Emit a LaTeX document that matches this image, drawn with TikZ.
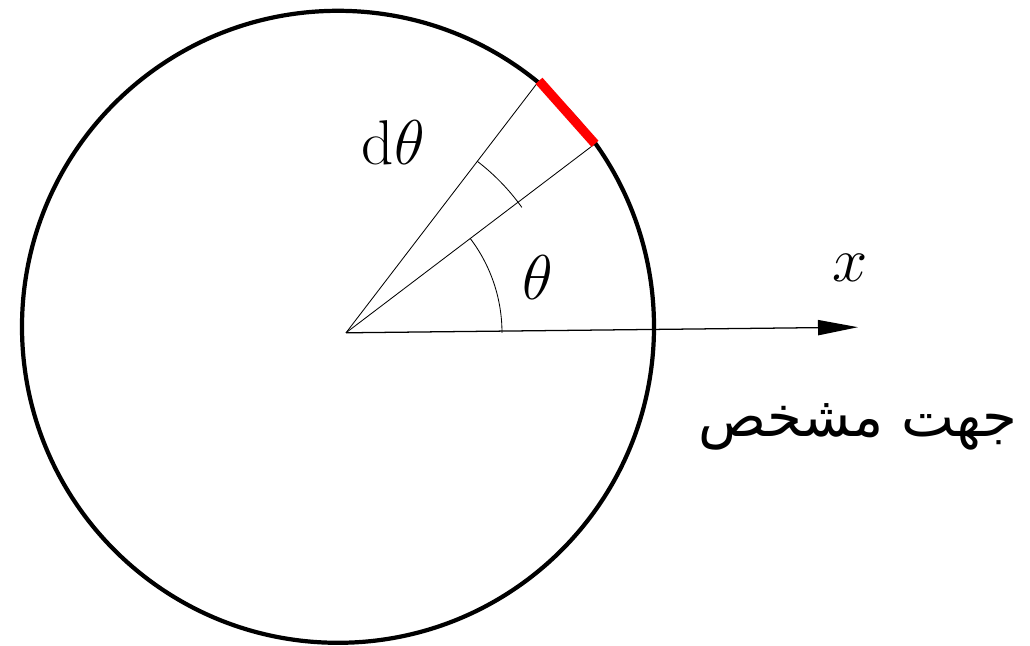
\RequirePackage{fix-cm}
\documentclass[tikz,border=0pt]{standalone}
\usepackage{fontspec}
\usetikzlibrary{arrows.meta}
\newfontfamily\arabicfont[Script=Arabic]{DejaVu Sans}
\TeXXeTstate=1
\tikzset{ray/.style={line width=0.6pt},lbl/.style={inner sep=0pt,font=\fontsize{45}{54}\selectfont},arr/.style={-{Triangle[length=1cm,width=0.38cm]}}}
\begin{document}
\begin{tikzpicture}[x=1cm,y=1cm]
\useasboundingbox(-8.65,-7.81)rectangle(17.1,8.32);
\coordinate(O)at(0,0);
\coordinate(C)at(-0.2,0.15);
\coordinate(A)at(4.825,6.3);
\coordinate(B)at(6.225,4.725);
\coordinate(X)at(12.8,0.14);
\draw[line width=3pt](C)circle(7.9);
\draw[ray](O)--(A);
\draw[ray](O)--(B);
\draw[line width=0.9pt,arr](O)--(X);
\draw[red,line width=6.6pt](A)--(B);
\draw[ray](3.9,0)arc(0:37.2:3.9);
\draw[ray]([shift={(52.55:5.4)}]O)arc(52.55:35.5:5.4);
\node[lbl](dth)at(1.18,4.75){$\mathrm{d}\theta$};
\node[lbl](th)at(4.79,1.39){$\theta$};
\node[lbl](xl)at(12.6,1.62){$x$};
\node[lbl,font=\fontsize{40}{48}\selectfont\arabicfont](dir)at(12.8,-2.35){\beginR جهت مشخص\endR};
\end{tikzpicture}
\end{document}
